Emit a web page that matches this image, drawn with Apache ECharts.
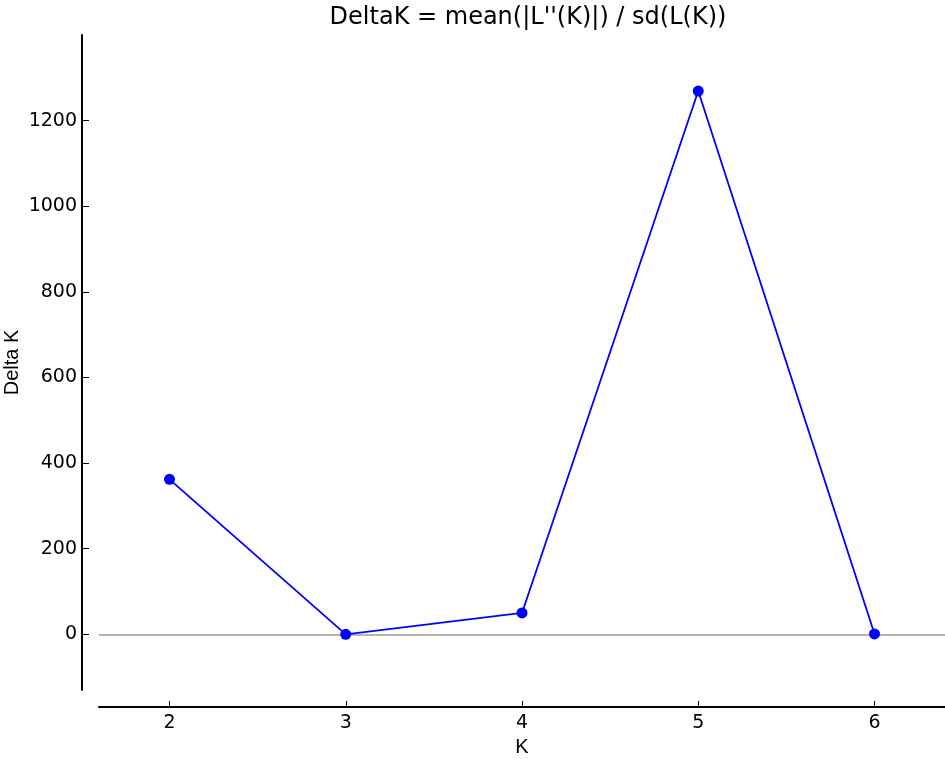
<!DOCTYPE html>
<html>
<head>
<meta charset="utf-8">
<script src="https://cdn.jsdelivr.net/npm/echarts@6/dist/echarts.min.js"></script>
<style>
html,body{margin:0;padding:0;background:#fff;}
#chart{width:945px;height:759px;}
</style>
</head>
<body>
<div id="chart"></div>
<script>
const titleText = "DeltaK = mean(|L''(K)|) / sd(L(K))";
const kValues = [2, 3, 4, 5, 6];
const deltaK = [362, 0, 50, 1269, 1];
const xTicks = [2, 3, 4, 5, 6];
const yTicks = [0, 200, 400, 600, 800, 1000, 1200];

const chart = echarts.init(document.getElementById('chart'), null, {renderer: 'canvas'});
const tickFont = 'DejaVu Sans';
chart.setOption({
  animation: false,
  backgroundColor: '#ffffff',
  title: {
    text: titleText,
    left: 523, top: 1, textAlign: 'center',
    textStyle: {fontFamily: tickFont, fontSize: 24, fontWeight: 'normal', color: '#000'}
  },
  grid: {left: 99, right: 0, top: 35, bottom: 69, containLabel: false, outerBoundsMode: 'none'},
  xAxis: {
    type: 'value', min: 1.6, max: 6.4, offset: 17,
    name: 'K', nameLocation: 'middle', nameGap: 30, nameMoveOverlap: false,
    nameTextStyle: {fontFamily: 'Liberation Sans', fontSize: 20, color: '#000'},
    axisLine: {show: true, onZero: false, lineStyle: {color: '#000', width: 2}},
    axisTick: {show: true, inside: true, length: 6, customValues: xTicks, lineStyle: {color: '#000', width: 1}},
    axisLabel: {show: true, customValues: xTicks, margin: 7, fontFamily: tickFont, fontSize: 19, color: '#000',
      formatter: v => String(v)},
    splitLine: {show: false}
  },
  yAxis: {
    type: 'value', min: -130, max: 1400, offset: 17,
    name: 'Delta K', nameLocation: 'middle', nameGap: 60, nameRotate: 90, nameMoveOverlap: false,
    nameTextStyle: {fontFamily: 'Liberation Sans', fontSize: 20, color: '#000'},
    axisLine: {show: true, onZero: false, lineStyle: {color: '#000', width: 2}},
    axisTick: {show: true, inside: true, length: 7, customValues: yTicks, lineStyle: {color: '#000', width: 1}},
    axisLabel: {show: true, customValues: yTicks, margin: 5, fontFamily: tickFont, fontSize: 19, color: '#000',
      formatter: v => String(v)},
    splitLine: {show: false}
  },
  series: [{
    type: 'line',
    data: kValues.map((k, i) => [k, deltaK[i]]),
    symbol: 'circle', symbolSize: 11,
    itemStyle: {color: '#0000ff'},
    lineStyle: {color: '#0000ff', width: 1.8},
    z: 3,
    markLine: {
      silent: true, symbol: 'none', label: {show: false},
      lineStyle: {color: '#b5b5b5', width: 2, type: 'solid'},
      data: [{yAxis: 0}],
      z: 1
    }
  }]
});
</script>
</body>
</html>
